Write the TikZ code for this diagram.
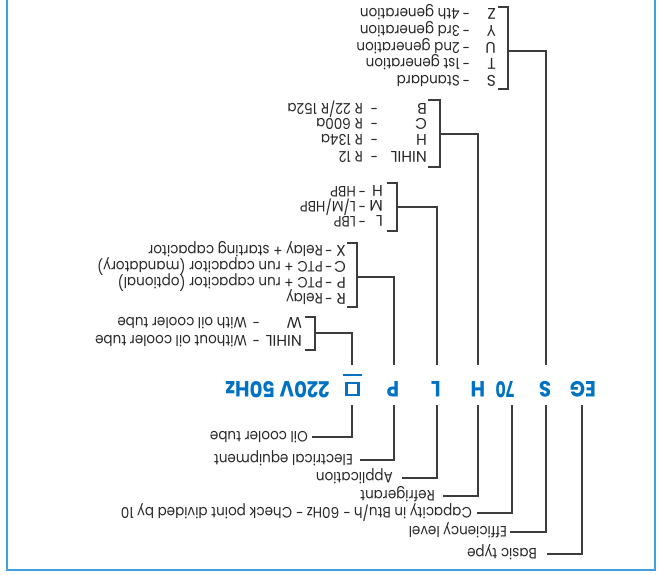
\documentclass[tikz,border=0pt]{standalone}
\usepackage{fontspec}
\setmainfont{Poppins}[FakeStretch=0.9]
\newfontfamily\optcodefont{Poppins}
\definecolor{codeblue}{RGB}{0,114,196}
\definecolor{framebl}{RGB}{66,160,222}
\definecolor{lngray}{RGB}{60,60,60}
\definecolor{txgray}{RGB}{40,40,40}
\newcommand\optrow[7]{%
  \node[lblcode] (#1c) at (#3,#2) {#4};
  \node[lbl, anchor=center] (#1d) at (#5,#2) {-};
  \node[lbl] (#1t) at (#6,#2) {#7};
}
\begin{document}
\begin{tikzpicture}[x=1pt,y=1pt,
  lbl/.style={anchor=west, inner sep=0pt, text height=10.3pt, text depth=0pt,
    font=\fontsize{15}{16}\selectfont, text=txgray},
  lblcode/.style={anchor=west, inner sep=0pt, text height=11pt, text depth=0pt,
    font=\optcodefont\fontsize{15.5}{16}\selectfont, text=txgray},
  codetxt/.style={anchor=base, inner sep=0pt, text height=15pt, text depth=0pt,
    font=\fontsize{22}{23}\selectfont\bfseries, text=codeblue},
  ln/.style={draw=lngray, line width=1.1pt},
  brk/.style={draw=lngray, line width=1.1pt}]
\useasboundingbox (0,0) rectangle (659,574);
\begin{scope}[rotate around={180:(329.5,287)}, transform shape]
% frame
\draw[framebl, line width=1.6pt] (4,-2) -- (4,570) -- (652,570) -- (652,-2);
% code line
\node[codetxt] (eg) at (76,382) {EG};
\node[codetxt] (s) at (114,382) {S};
\node[codetxt, xscale=0.8] (c70) at (154,382) {70};
\node[codetxt] (h) at (181,382) {H};
\node[codetxt] (l) at (223,382) {L};
\node[codetxt] (p) at (266,382) {P};
\node[draw=codeblue, line width=2.8pt, minimum size=12pt, inner sep=0pt] (box) at (306.5,389) {};
\draw[codeblue, line width=1.8pt] (297,375) -- (316,375);
\node[codetxt] (volt) at (381.5,382) {220V 50Hz};
% upper labels
\node[lbl] (basic) at (122,554) {Basic type};
\node[lbl] (eff) at (152,532) {Efficiency level};
\node[lbl] (cap) at (187,513) {Capacity in Btu/h - 60Hz - Check point divided by 10};
\node[lbl] (refr) at (224,496) {Refrigerant};
\node[lbl] (appl) at (266,478) {Application};
\node[lbl] (elec) at (306,460) {Electrical equipment};
\node[lbl] (oil) at (351,437) {Oil cooler tube};
\draw[ln] (77,405) |- ([xshift=-10pt]basic.west);
\draw[ln] (113,405) |- ([xshift=-3pt]eff.west);
\draw[ln] (147,405) |- ([xshift=-5pt]cap.west);
\draw[ln] (181,405) |- ([xshift=-8pt]refr.west);
\draw[ln] (222,405) |- ([xshift=-9pt]appl.west);
\draw[ln] (265,405) |- ([xshift=-7pt]elec.west);
\draw[ln] (307,405) |- ([xshift=-4pt]oil.west);
% S bracket
\optrow{s1}{81}{163}{S}{193}{199}{Standard}
\optrow{s2}{64}{163}{T}{193}{199}{1st generation}
\optrow{s3}{48}{163}{U}{193}{199}{2nd generation}
\optrow{s4}{31}{163}{Y}{193}{199}{3rd generation}
\optrow{s5}{14}{163}{Z}{193}{199}{4th generation}
\draw[brk] (161,89) -- (151,89) -- (151,7) -- (161,7);
\coordinate (sb) at (151,51);
\draw[ln] (113,365) |- (sb);
% H bracket
\optrow{h1}{157}{232}{NIHIL}{285}{296}{R 12}
\optrow{h2}{140}{232}{H}{285}{296}{R 134a}
\optrow{h3}{124}{232}{C}{285}{296}{R 600a}
\optrow{h4}{109}{232}{B}{285}{296}{R 22/R 152a}
\draw[brk] (231,167) -- (219,167) -- (219,100) -- (231,100);
\coordinate (hb) at (219,134);
\draw[ln] (181,365) |- (hb);
% L bracket
\optrow{l1}{221.5}{276}{L}{297}{303}{LBP}
\optrow{l2}{206.5}{276}{M}{297}{303}{L/M/HBP}
\optrow{l3}{191.5}{276}{H}{297}{303}{HBP}
\draw[brk] (272,231) -- (262,231) -- (262,183) -- (272,183);
\coordinate (lb) at (262,207);
\draw[ln] (222,365) |- (lb);
% P bracket
\optrow{p1}{299}{313}{R}{330.5}{336}{Relay}
\optrow{p2}{283}{313}{P}{330.5}{336}{PTC + run capacitor (optional)}
\optrow{p3}{267}{313}{C}{330.5}{336}{PTC + run capacitor (mandatory)}
\optrow{p4}{251}{313}{X}{330.5}{336}{Relay + starting capacitor}
\draw[brk] (312,307) -- (302,307) -- (302,243) -- (312,243);
\coordinate (pb) at (302,277);
\draw[ln] (265,365) |- (pb);
% oil bracket
\optrow{o1}{341}{357}{NIHIL}{403}{412}{Without oil cooler tube}
\optrow{o2}{323}{357}{W}{403}{412}{With oil cooler tube}
\draw[brk] (354,350) -- (344,350) -- (344,317) -- (354,317);
\coordinate (ob) at (344,333);
\draw[ln] (307,365) |- (ob);
\end{scope}
\end{tikzpicture}
\end{document}
